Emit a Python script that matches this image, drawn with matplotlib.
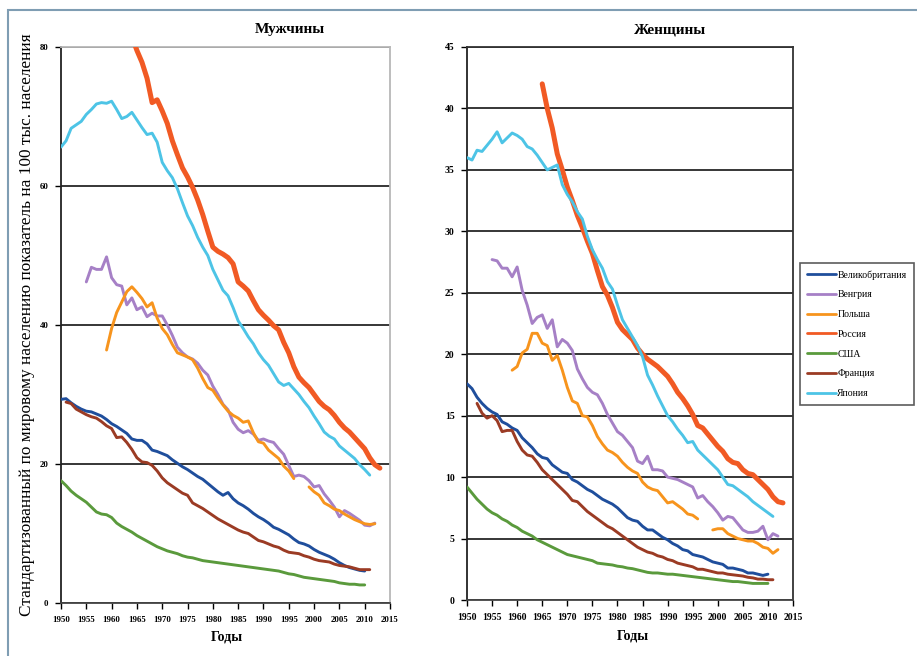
import numpy as np
import matplotlib
matplotlib.use('Agg')
import matplotlib.pyplot as plt
from matplotlib.patches import Rectangle

plt.rcParams['font.family'] = ['Liberation Serif', 'DejaVu Serif']

countries = ['Великобритания', 'Венгрия', 'Польша', 'Россия', 'США', 'Франция', 'Япония']
colours = ['#1f4e9c', '#a680c6', '#f7941d', '#f15a24', '#5a9a3c', '#9b3b24', '#4dc4e6']

nan = np.nan

# --- Мужчины (first year of each series, then yearly values)
men_start = [1950, 1955, 1959, 1964, 1950, 1951, 1950]
men_uk = [29.3, 29.4, 28.8, 28.3, 27.9, 27.6, 27.5, 27.2, 26.9, 26.4,
          25.8, 25.4, 24.9, 24.4, 23.6, 23.4, 23.4, 22.9, 22.0, 21.8,
          21.5, 21.2, 20.6, 20.1, 19.6, 19.2, 18.7, 18.2, 17.8, 17.2,
          16.6, 16.0, 15.5, 15.9, 15.0, 14.4, 14.0, 13.5, 12.9, 12.4,
          12.0, 11.5, 10.9, 10.6, 10.2, 9.8, 9.2, 8.7, 8.5, 8.2,
          7.7, 7.3, 7.0, 6.7, 6.3, 5.8, 5.4, 5.1, 4.9, 4.7, 4.6]
men_hungary = [46.2, 48.3, 48.0, 48.0, 49.8, 46.8, 45.8, 45.6, 42.9, 43.9,
               42.2, 42.6, 41.2, 41.7, 41.3, 41.3, 40.0, 38.5, 36.8, 36.0,
               35.4, 35.1, 34.5, 33.5, 32.8, 31.2, 30.0, 28.6, 27.8, 26.0,
               25.0, 24.5, 24.8, 24.3, 23.4, 23.6, 23.3, 23.1, 22.2, 21.4,
               19.8, 18.2, 18.4, 18.2, 17.6, 16.7, 16.9, 15.7, 14.8, 13.8,
               12.4, 13.3, 12.9, 12.4, 11.9, 11.2, 11.1, 11.5]
men_poland = [36.4, 39.5, 41.8, 43.3, 44.8, 45.5, 44.7, 43.8, 42.6, 43.2,
              41.0, 39.5, 38.6, 37.2, 36.0, 35.7, 35.4, 35.0, 33.8, 32.3,
              31.0, 30.6, 29.5, 28.5, 27.6, 27.0, 26.6, 26.0, 26.2, 24.5,
              23.2, 23.0, 22.0, 21.4, 20.8, 19.7, 19.0, 17.9, nan, nan,
              16.7, 16.0, 15.5, 14.4, 14.0, 13.5, 13.3, 12.8, 12.4, 12.0,
              11.7, 11.4, 11.3, 11.4]
men_russia = [81.5, 79.5, 77.8, 75.5, 72.0, 72.4, 70.8, 69.0, 66.5, 64.5,
              62.6, 61.3, 59.8, 58.0, 55.9, 53.5, 51.2, 50.6, 50.2, 49.7,
              48.8, 46.2, 45.6, 44.9, 43.5, 42.2, 41.4, 40.7, 39.9, 39.3,
              37.5, 36.0, 34.0, 32.5, 31.7, 31.0, 30.0, 29.0, 28.3, 27.8,
              27.0, 26.0, 25.2, 24.6, 23.8, 23.0, 22.2, 20.9, 19.9, 19.4]
men_usa = [17.6, 16.9, 16.1, 15.5, 15.0, 14.5, 13.8, 13.1, 12.8, 12.7,
           12.3, 11.5, 11.0, 10.6, 10.2, 9.7, 9.3, 8.9, 8.5, 8.1,
           7.8, 7.5, 7.3, 7.1, 6.8, 6.6, 6.5, 6.3, 6.1, 6.0,
           5.9, 5.8, 5.7, 5.6, 5.5, 5.4, 5.3, 5.2, 5.1, 5.0,
           4.9, 4.8, 4.7, 4.6, 4.4, 4.2, 4.1, 3.9, 3.7, 3.6,
           3.5, 3.4, 3.3, 3.2, 3.1, 2.9, 2.8, 2.7, 2.7, 2.6, 2.6]
men_france = [28.9, 28.7, 27.9, 27.5, 27.1, 26.8, 26.6, 26.1, 25.5, 25.1,
              23.8, 23.9, 23.1, 22.1, 20.9, 20.3, 20.2, 19.8, 19.0, 18.0,
              17.3, 16.8, 16.3, 15.8, 15.5, 14.4, 14.0, 13.6, 13.1, 12.6,
              12.1, 11.7, 11.3, 10.9, 10.5, 10.2, 10.0, 9.5, 9.0, 8.8,
              8.5, 8.2, 8.0, 7.6, 7.3, 7.2, 7.1, 6.8, 6.6, 6.3,
              6.1, 6.0, 5.9, 5.6, 5.4, 5.3, 5.2, 5.0, 4.8, 4.8, 4.8]
men_japan = [65.6, 66.5, 68.3, 68.8, 69.3, 70.3, 71.0, 71.8, 72.0, 71.9,
             72.2, 71.0, 69.7, 70.0, 70.6, 69.5, 68.4, 67.4, 67.6, 66.3,
             63.4, 62.2, 61.2, 59.6, 57.6, 55.7, 54.3, 52.6, 51.2, 50.0,
             48.0, 46.5, 45.0, 44.2, 42.5, 40.6, 39.5, 38.3, 37.3, 36.0,
             35.0, 34.2, 33.0, 31.8, 31.3, 31.6, 30.8, 30.0, 29.0, 28.1,
             26.9, 25.8, 24.6, 24.0, 23.6, 22.6, 22.0, 21.4, 20.8, 19.9,
             19.2, 18.4]

# --- Женщины
women_start = [1950, 1955, 1959, 1965, 1950, 1952, 1950]
women_uk = [17.6, 17.2, 16.5, 16.0, 15.6, 15.3, 15.1, 14.5, 14.3, 14.0,
            13.8, 13.2, 12.8, 12.4, 11.9, 11.6, 11.5, 11.0, 10.7, 10.4,
            10.3, 9.8, 9.6, 9.3, 9.0, 8.8, 8.5, 8.2, 8.0, 7.8,
            7.5, 7.1, 6.7, 6.5, 6.4, 6.0, 5.7, 5.7, 5.4, 5.1,
            4.9, 4.6, 4.4, 4.1, 4.0, 3.7, 3.6, 3.5, 3.3, 3.1,
            3.0, 2.9, 2.6, 2.6, 2.5, 2.4, 2.2, 2.2, 2.1, 2.0, 2.1]
women_hungary = [27.7, 27.6, 27.0, 27.0, 26.3, 27.1, 25.2, 24.0, 22.5, 23.0,
                 23.2, 22.1, 22.8, 20.6, 21.2, 20.9, 20.3, 18.8, 18.0, 17.3,
                 16.9, 16.7, 16.0, 15.1, 14.4, 13.7, 13.4, 12.9, 12.4, 11.3,
                 11.1, 11.7, 10.6, 10.6, 10.5, 10.0, 9.9, 9.8, 9.6, 9.4,
                 9.2, 8.3, 8.5, 8.0, 7.6, 7.1, 6.5, 6.8, 6.7, 6.2,
                 5.7, 5.5, 5.5, 5.6, 6.0, 4.9, 5.4, 5.2]
women_poland = [18.7, 19.0, 20.1, 20.4, 21.7, 21.7, 20.9, 20.7, 19.5, 19.9,
                18.7, 17.3, 16.2, 16.0, 15.0, 14.9, 14.2, 13.3, 12.7, 12.2,
                12.0, 11.7, 11.2, 10.8, 10.5, 10.3, 9.6, 9.2, 9.0, 8.9,
                8.4, 7.9, 8.0, 7.7, 7.4, 7.0, 6.9, 6.6, nan, nan,
                5.7, 5.8, 5.8, 5.4, 5.2, 5.0, 4.9, 4.8, 4.8, 4.6,
                4.3, 4.2, 3.8, 4.1]
women_russia = [42.0, 40.0, 38.4, 36.3, 35.0, 33.6, 32.5, 31.3, 30.3, 29.2,
                28.2, 26.8, 25.5, 24.8, 23.8, 22.6, 22.0, 21.6, 21.2, 20.5,
                20.0, 19.6, 19.3, 19.0, 18.6, 18.2, 17.6, 16.9, 16.4, 15.8,
                15.1, 14.2, 14.0, 13.5, 13.0, 12.5, 12.1, 11.5, 11.2, 11.1,
                10.6, 10.3, 10.2, 9.8, 9.4, 9.0, 8.4, 8.0, 7.9]
women_usa = [9.2, 8.7, 8.2, 7.8, 7.4, 7.1, 6.9, 6.6, 6.4, 6.1,
             5.9, 5.6, 5.4, 5.2, 4.9, 4.7, 4.5, 4.3, 4.1, 3.9,
             3.7, 3.6, 3.5, 3.4, 3.3, 3.2, 3.0, 2.95, 2.9, 2.85,
             2.75, 2.7, 2.6, 2.55, 2.45, 2.35, 2.25, 2.2, 2.2, 2.15,
             2.1, 2.1, 2.05, 2.0, 1.95, 1.9, 1.85, 1.8, 1.75, 1.7,
             1.65, 1.6, 1.55, 1.5, 1.5, 1.45, 1.4, 1.35, 1.35, 1.35, 1.35]
women_france = [16.0, 15.2, 14.8, 15.0, 14.6, 13.7, 13.8, 13.8, 12.9, 12.2,
                11.8, 11.7, 11.2, 10.6, 10.2, 9.8, 9.4, 9.0, 8.6, 8.1,
                8.0, 7.6, 7.2, 6.9, 6.6, 6.3, 6.0, 5.8, 5.5, 5.2,
                4.9, 4.6, 4.3, 4.1, 3.9, 3.8, 3.6, 3.5, 3.3, 3.2,
                3.0, 2.9, 2.8, 2.7, 2.5, 2.5, 2.4, 2.3, 2.2, 2.2,
                2.1, 2.05, 2.0, 1.95, 1.85, 1.8, 1.7, 1.7, 1.65, 1.65]
women_japan = [36.0, 35.8, 36.6, 36.5, 37.0, 37.5, 38.1, 37.2, 37.6, 38.0,
               37.8, 37.5, 36.9, 36.7, 36.2, 35.6, 35.0, 35.2, 35.4, 33.8,
               33.0, 32.4, 31.6, 31.0, 29.6, 28.5, 27.7, 27.0, 25.9, 25.3,
               24.0, 22.8, 22.1, 21.4, 20.7, 19.8, 18.3, 17.5, 16.6, 15.8,
               15.0, 14.5, 13.9, 13.4, 12.8, 12.9, 12.2, 11.8, 11.4, 11.0,
               10.6, 10.0, 9.4, 9.3, 9.0, 8.7, 8.4, 8.0, 7.7, 7.4,
               7.1, 6.8]

men = [men_uk, men_hungary, men_poland, men_russia, men_usa, men_france, men_japan]
women = [women_uk, women_hungary, women_poland, women_russia, women_usa,
         women_france, women_japan]

year_ticks = np.arange(1950, 2016, 5)
ylabel = 'Стандартизованный по мировому населению показатель на 100 тыс. населения'

fig = plt.figure(figsize=(9.17, 6.56), dpi=100)

# outer frame
fig.patches.append(Rectangle((8 / 917, -0.2), 1.2, 1.2 - 10 / 656, transform=fig.transFigure,
                             fill=False, edgecolor='#7f9db3', lw=1.5))

ax1 = fig.add_axes([61 / 917, 1 - 603 / 656, 329 / 917, 556 / 656])
ax2 = fig.add_axes([467 / 917, 1 - 600 / 656, 326 / 917, 553 / 656])


def draw(ax, series, starts, ymax, ystep, spine_col, lsize):
    for vals, start, col, name in zip(series, starts, colours, countries):
        yrs = np.arange(start, start + len(vals))
        lw = 3.6 if name == 'Россия' else 2.1
        ax.plot(yrs, vals, color=col, lw=lw, label=name, solid_capstyle='round',
                solid_joinstyle='round', zorder=3)
    ax.set_xlim(1950, 2015)
    ax.set_ylim(0, ymax)
    ax.set_xticks(year_ticks)
    ax.set_yticks(np.arange(0, ymax + 1, ystep))
    ax.yaxis.grid(True, color='black', lw=1.1, zorder=1)
    ax.set_axisbelow(True)
    ax.spines['left'].set_color('#222222')
    ax.spines['left'].set_linewidth(1.3)
    ax.spines['bottom'].set_color('#444444')
    ax.spines['top'].set_color(spine_col)
    ax.spines['right'].set_color(spine_col)
    for s in ['top', 'right', 'bottom']:
        ax.spines[s].set_linewidth(1.3)
    ax.tick_params(axis='both', direction='out', length=4, width=1, labelsize=lsize, pad=5)
    for lab in ax.get_xticklabels() + ax.get_yticklabels():
        lab.set_fontweight('bold')


draw(ax1, men, men_start, 80, 20, '#b8b8b8', 6.3)
draw(ax2, women, women_start, 45, 5, '#333333', 7)

fig.text(290 / 917, 1 - 30 / 656, 'Мужчины', ha='center', va='center',
         fontsize=11, fontweight='bold')
fig.text(670 / 917, 1 - 30 / 656, 'Женщины', ha='center', va='center',
         fontsize=11, fontweight='bold')
fig.text(227 / 917, 1 - 637 / 656, 'Годы', ha='center', va='center',
         fontsize=10, fontweight='bold')
fig.text(633 / 917, 1 - 636 / 656, 'Годы', ha='center', va='center',
         fontsize=10, fontweight='bold')
fig.text(27 / 917, 1 - 325 / 656, ylabel, rotation=90, ha='center', va='center',
         fontsize=12.4)

handles, labels = ax2.get_legend_handles_labels()
leg = fig.legend(handles, labels, loc='upper left', bbox_to_anchor=(800 / 917, 1 - 263 / 656),
                 fontsize=7, frameon=True, fancybox=False, edgecolor='#333333',
                 handlelength=3.0, handletextpad=0.1, labelspacing=1.1,
                 borderpad=0.75, borderaxespad=0)
leg.get_frame().set_linewidth(1.2)
for line in leg.get_lines():
    line.set_linewidth(2.0)

fig.savefig('out.png', dpi=100)
